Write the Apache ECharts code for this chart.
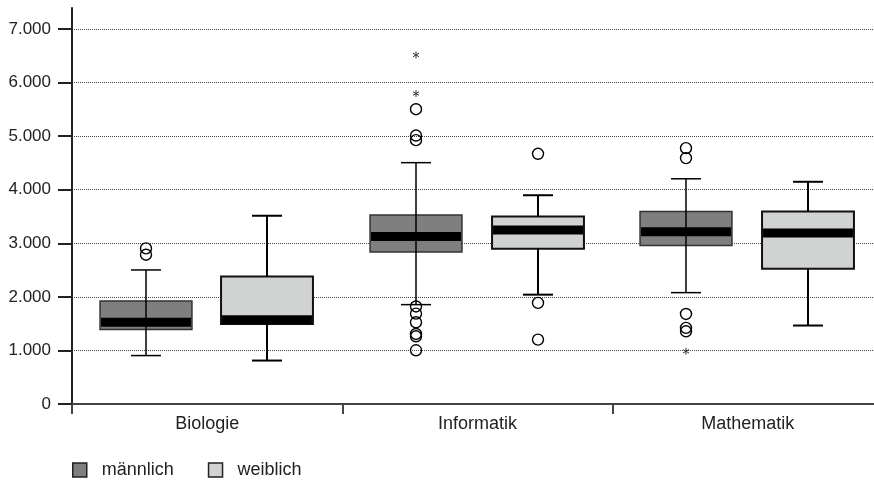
<!DOCTYPE html>
<html>
<head>
<meta charset="utf-8">
<script src="https://cdn.jsdelivr.net/npm/echarts@6/dist/echarts.min.js"></script>
<style>
  html, body { margin: 0; padding: 0; background: #fff; }
  #chart { width: 874px; height: 481px; }
</style>
</head>
<body>
<div id="chart"></div>
<script>
const categories = ['Biologie', 'Informatik', 'Mathematik']

// [min, q1, median, q3, max]
const maleBoxes = [
  [904, 1390, 1525, 1925, 2502],
  [1855, 2837, 3126, 3527, 4505],
  [2079, 2958, 3215, 3595, 4204],
]
const femaleBoxes = [
  [811, 1495, 1575, 2380, 3514],
  [2041, 2897, 3248, 3500, 3897],
  [1465, 2524, 3194, 3595, 4148],
]

// [category index, value]
const maleOutliers = [
  [0, 2905], [0, 2787],
  [1, 5503], [1, 5011], [1, 4925],
  [1, 1821], [1, 1687], [1, 1525], [1, 1308], [1, 1264], [1, 1003],
  [2, 4776], [2, 4590], [2, 1681], [2, 1421], [2, 1357],
]
const maleExtremes = [[1, 6515], [1, 5794], [2, 984]]
const femaleOutliers = [[1, 4670], [1, 1887], [1, 1202]]

const yTicks = [0, 1000, 2000, 3000, 4000, 5000, 6000, 7000]

const FONT = "'Liberation Sans', Arial, sans-serif"
const MALE_FILL = '#7f7f7f'
const FEMALE_FILL = '#d1d3d2'

function fmtDe(v) {
  return String(v).replace(/\B(?=(\d{3})+(?!\d))/g, '.')
}

function boxRenderer(side, fill, opts) {
  return function (params, api) {
    const cat = api.value(0)
    const band = api.size([1, 0])[0]
    const cx = Math.round(api.coord([cat, 0])[0] + side * band)
    const bw = band * 0.34
    const cw = band * 0.111
    const y = (i) => api.coord([cat, api.value(i)])[1]
    const yMin = y(1), yQ1 = y(2), yMed = y(3), yQ3 = y(4), yMax = y(5)
    const ln = { stroke: '#000', lineWidth: opts.whisker }
    const children = [
      {
        type: 'rect',
        shape: { x: cx - bw / 2, y: yQ3, width: bw, height: yQ1 - yQ3 },
        style: { fill: fill, stroke: opts.border, lineWidth: opts.boxLine },
      },
      {
        type: 'rect',
        shape: { x: cx - bw / 2 + 1, y: yMed - 4.5, width: bw - 2, height: 9 },
        style: { fill: '#000' },
      },
    ]
    if (opts.through) {
      children.push({ type: 'line', shape: { x1: cx, y1: yMax, x2: cx, y2: yMin }, style: ln })
    } else {
      children.push({ type: 'line', shape: { x1: cx, y1: yMax, x2: cx, y2: yQ3 }, style: ln })
      children.push({ type: 'line', shape: { x1: cx, y1: yQ1, x2: cx, y2: yMin }, style: ln })
    }
    children.push({ type: 'line', shape: { x1: cx - cw / 2, y1: yMax, x2: cx + cw / 2, y2: yMax }, style: ln })
    children.push({ type: 'line', shape: { x1: cx - cw / 2, y1: yMin, x2: cx + cw / 2, y2: yMin }, style: ln })
    return { type: 'group', children: children }
  }
}

function outlierRenderer(side, star) {
  return function (params, api) {
    const cat = api.value(0)
    const band = api.size([1, 0])[0]
    const p = api.coord([cat, api.value(1)])
    const cx = Math.round(p[0] + side * band)
    if (!star) {
      return {
        type: 'circle',
        shape: { cx: cx, cy: p[1], r: 5.5 },
        style: { fill: 'none', stroke: '#000', lineWidth: 1.4 },
      }
    }
    const r = 3.5
    const st = { stroke: '#333', lineWidth: 1 }
    return {
      type: 'group',
      children: [0, 60, 120].map((a) => {
        const rad = (a * Math.PI) / 180
        return {
          type: 'line',
          shape: {
            x1: cx - r * Math.sin(rad), y1: p[1] - r * Math.cos(rad),
            x2: cx + r * Math.sin(rad), y2: p[1] + r * Math.cos(rad),
          },
          style: st,
        }
      }),
    }
  }
}

const chart = echarts.init(document.getElementById('chart'))

chart.setOption({
  animation: false,
  textStyle: { fontFamily: FONT },
  grid: [
    { left: 72, width: 811, top: 29, bottom: 77, outerBoundsMode: 'none' },
    { left: 72, width: 811, top: 8, bottom: 77, outerBoundsMode: 'none' },
  ],
  legend: {
    left: 67,
    top: 456,
    icon: 'rect',
    itemWidth: 14,
    itemHeight: 14,
    itemGap: 34,
    textStyle: { fontFamily: FONT, fontSize: 18, color: '#222', padding: [0, 0, 0, 10] },
    data: [
      { name: 'männlich', itemStyle: { color: MALE_FILL, borderColor: '#222', borderWidth: 1.5 } },
      { name: 'weiblich', itemStyle: { color: FEMALE_FILL, borderColor: '#222', borderWidth: 1.5 } },
    ],
  },
  xAxis: [
    {
      type: 'category',
      data: categories,
      gridIndex: 0,
      axisLine: { show: true, lineStyle: { color: '#444', width: 2 } },
      axisTick: { show: true, length: 10, interval: 0, lineStyle: { color: '#444', width: 2 } },
      axisLabel: { color: '#222', fontSize: 18, margin: 11, fontFamily: FONT },
    },
    { type: 'value', gridIndex: 1, show: false },
  ],
  yAxis: [
    {
      type: 'value',
      gridIndex: 0,
      min: yTicks[0],
      max: yTicks[yTicks.length - 1],
      interval: 1000,
      axisLine: { show: true, lineStyle: { color: '#222', width: 2 } },
      axisTick: { show: true, length: 14, lineStyle: { color: '#222', width: 2 } },
      axisLabel: { color: '#222', fontSize: 17, margin: 21, fontFamily: FONT, formatter: fmtDe },
      splitLine: { lineStyle: { color: '#444', width: 1, type: 'dotted' } },
    },
    {
      type: 'value',
      gridIndex: 1,
      min: 0,
      max: 1,
      axisLine: { show: true, lineStyle: { color: '#222', width: 2 } },
      axisTick: { show: false },
      axisLabel: { show: false },
      splitLine: { show: false },
    },
  ],
  series: [
    {
      name: 'männlich',
      type: 'custom',
      data: maleBoxes.map((b, i) => [i].concat(b)),
      encode: { x: 0, y: [1, 2, 3, 4, 5] },
      renderItem: boxRenderer(-0.228, MALE_FILL, { border: '#333', boxLine: 1.5, whisker: 1.5, through: true }),
      z: 3,
    },
    {
      name: 'weiblich',
      type: 'custom',
      data: femaleBoxes.map((b, i) => [i].concat(b)),
      encode: { x: 0, y: [1, 2, 3, 4, 5] },
      renderItem: boxRenderer(0.222, FEMALE_FILL, { border: '#111', boxLine: 2, whisker: 2, through: false }),
      z: 3,
    },
    {
      name: 'männlich',
      type: 'custom',
      data: maleOutliers,
      encode: { x: 0, y: 1 },
      renderItem: outlierRenderer(-0.228, false),
      z: 4,
    },
    {
      name: 'männlich',
      type: 'custom',
      data: maleExtremes,
      encode: { x: 0, y: 1 },
      renderItem: outlierRenderer(-0.228, true),
      z: 4,
    },
    {
      name: 'weiblich',
      type: 'custom',
      data: femaleOutliers,
      encode: { x: 0, y: 1 },
      renderItem: outlierRenderer(0.222, false),
      z: 4,
    },
  ],
})
</script>
</body>
</html>
